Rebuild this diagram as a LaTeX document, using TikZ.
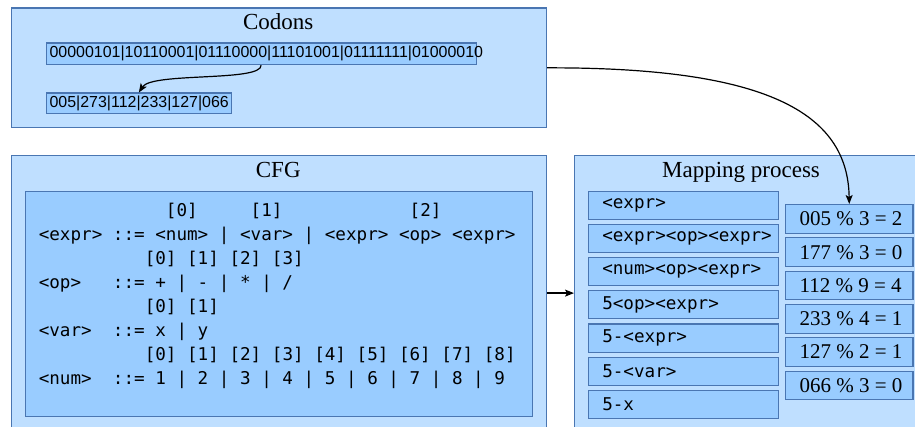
\documentclass[tikz,border=0pt]{standalone}
\usepackage{fontspec}
\setmainfont{Liberation Serif}
\setsansfont{Liberation Sans}
\setmonofont{DejaVu Sans Mono}
\usetikzlibrary{arrows.meta}
\definecolor{outerfill}{HTML}{BFDFFF}
\definecolor{innerfill}{HTML}{99CCFF}
\definecolor{edgeblue}{HTML}{4A76B2}
\begin{document}
\begin{tikzpicture}[x=1pt,y=-1pt,
  panel/.style={draw=edgeblue, fill=outerfill, line width=1.2pt, inner sep=0pt, anchor=north west},
  inbox/.style={draw=edgeblue, fill=innerfill, line width=1.2pt, inner ysep=0pt, anchor=north west},
  titletext/.style={font=\fontsize{23}{27}\selectfont, anchor=base, inner sep=0pt},
  sanstext/.style={font=\sffamily\fontsize{15.95}{18}\selectfont},
  monotext/.style={font=\ttfamily\fontsize{17.6}{24}\selectfont},
  gline/.style={monotext, anchor=base west, inner sep=0pt},
  leftbox/.style={inbox, monotext, minimum width=190pt, minimum height=28pt, inner xsep=13.7pt},
  rightbox/.style={inbox, font=\fontsize{21}{25}\selectfont, minimum width=127.3pt, minimum height=28.7pt, inner xsep=0pt},
  arr/.style={draw=black, line width=1.2pt, -{Stealth[length=9pt,width=7pt,inset=2pt]}}
]
\useasboundingbox (0,0) rectangle (915,427);
\clip (0,0) rectangle (915,427);

% Codons panel
\node[panel, minimum width=535.5pt, minimum height=119.5pt] (codons) at (10.5,7.5) {};
\node[titletext] (codonsT) at (278.25,30) {Codons};
\node[inbox, sanstext, minimum height=21.5pt, inner xsep=3.5pt] (bits) at (45.5,42.5)
  {\makebox[423pt][l]{00000101|10110001|01110000|11101001|01111111|01000010}};
\node[inbox, sanstext, minimum height=20.5pt, inner xsep=3.5pt] (dec) at (45.5,92.5)
  {\makebox[178.5pt][l]{005|273|112|233|127|066}};
\draw[arr] (bits.south) .. controls (262,82) and (152,72) .. (dec.north);

% CFG panel
\node[panel, minimum width=535.5pt, minimum height=275pt] (cfg) at (10.5,155) {};
\node[titletext] (cfgT) at (278.25,178) {CFG};
\node[inbox, inner sep=0pt, minimum width=507.5pt, minimum height=225pt] (grammar) at (24.5,191) {};
\node[gline] (g1) at (38.6,216.5) {~~~~~~~~~~~~[0]~~~~~[1]~~~~~~~~~~~~[2]};
\node[gline] (g2) at (38.6,240.5) {<expr>~::=~<num>~|~<var>~|~<expr>~<op>~<expr>};
\node[gline] (g3) at (38.6,264.5) {~~~~~~~~~~[0]~[1]~[2]~[3]};
\node[gline] (g4) at (38.6,288.5) {<op>~~~::=~+~|~-~|~*~|~/};
\node[gline] (g5) at (38.6,312.5) {~~~~~~~~~~[0]~[1]};
\node[gline] (g6) at (38.6,336.5) {<var>~~::=~x~|~y};
\node[gline] (g7) at (38.6,360.5) {~~~~~~~~~~[0]~[1]~[2]~[3]~[4]~[5]~[6]~[7]~[8]};
\node[gline] (g8) at (38.6,384.5) {<num>~~::=~1~|~2~|~3~|~4~|~5~|~6~|~7~|~8~|~9};

% Mapping panel
\node[panel, minimum width=360pt, minimum height=275pt] (mapping) at (574,155) {};
\node[titletext] (mappingT) at (741,178) {Mapping process};

\node[leftbox] (L1) at (588,190.7) {\makebox[162.6pt][l]{<expr>}};
\node[leftbox] (L2) at (588,223.9) {\makebox[162.6pt][l]{<expr><op><expr>}};
\node[leftbox] (L3) at (588,257.1) {\makebox[162.6pt][l]{<num><op><expr>}};
\node[leftbox] (L4) at (588,290.3) {\makebox[162.6pt][l]{5<op><expr>}};
\node[leftbox] (L5) at (588,323.5) {\makebox[162.6pt][l]{5-<expr>}};
\node[leftbox] (L6) at (588,356.7) {\makebox[162.6pt][l]{5-<var>}};
\node[leftbox] (L7) at (588,389.9) {\makebox[162.6pt][l]{5-x}};

\node[rightbox] (R1) at (785,204.0) {\makebox[127.3pt][l]{\hspace{14pt}005 \% 3 = 2}};
\node[rightbox] (R2) at (785,237.3) {\makebox[127.3pt][l]{\hspace{14pt}177 \% 3 = 0}};
\node[rightbox] (R3) at (785,270.6) {\makebox[127.3pt][l]{\hspace{14pt}112 \% 9 = 4}};
\node[rightbox] (R4) at (785,303.9) {\makebox[127.3pt][l]{\hspace{14pt}233 \% 4 = 1}};
\node[rightbox] (R5) at (785,337.2) {\makebox[127.3pt][l]{\hspace{14pt}127 \% 2 = 1}};
\node[rightbox] (R6) at (785,370.5) {\makebox[127.3pt][l]{\hspace{14pt}066 \% 3 = 0}};

% connectors
\draw[arr] (cfg.east) -- (mapping.west);
\draw[arr] (codons.east) .. controls (765,67.25) and (848,112) .. (R1.north);
\end{tikzpicture}
\end{document}
